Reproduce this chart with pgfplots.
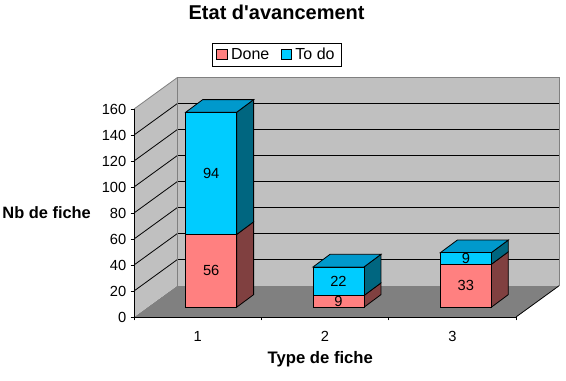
\documentclass[border=0pt]{standalone}
\usepackage{fontspec}
\setmainfont{Liberation Sans}
\usepackage{pgfplots}
\pgfplotsset{compat=1.18}
\usepackage{pgfplotstable}

\definecolor{done}{HTML}{FF8080}
\definecolor{doneside}{HTML}{804040}
\definecolor{todo}{HTML}{00CCFF}
\definecolor{todoside}{HTML}{006680}
\definecolor{todotop}{HTML}{0099CC}
\definecolor{wallc}{HTML}{C0C0C0}
\definecolor{floorc}{HTML}{808080}

\pgfplotstableread{
cat done todo
1   56   94
2   9    22
3   33   9
}\datatable

\pgfplotsset{
  frame3d/.style={
    scale only axis, width=286.5pt, height=156pt,
    xmin=0.5, xmax=3.5, ymin=0, ymax=160,
    clip=false, anchor=south west,
  },
  sqlegend/.style={/pgfplots/legend image code/.code={%
    \draw[fill=#1,draw=black,line width=0.6pt] (0pt,-3.9pt) rectangle (8.2pt,3.9pt);}},
  face/.style={fill=#1, draw=black, line width=0.6pt, mark=none, forget plot},
}

\begin{document}
\begin{tikzpicture}
\useasboundingbox (0,0) rectangle (424.5pt,285pt);
% ---------- main axis: walls, 3D faces, axes, texts
\begin{axis}[
  frame3d, at={(100.5pt,47.25pt)},
  axis on top,
  axis x line*=bottom, axis y line*=left,
  axis line style={black, line width=0.6pt},
  ytick={0,20,...,160},
  xtick={0.5,1.5,2.5,3.5}, xticklabels={},
  extra x ticks={1,2,3}, extra x tick labels={1,2,3},
  extra x tick style={major tick length=0pt},
  tick align=outside,
  major tick length=2.6pt,
  tick style={black, line width=0.6pt},
  ticklabel style={font=\fontsize{11}{13}\selectfont},
  yticklabel style={xshift=0.3pt},
  xticklabel style={anchor=base, yshift=-18.5pt},
  /pgf/number format/assume math mode=true,
  xlabel={Type de fiche},
  xlabel style={at={(axis description cs:0.4877,-0.2212)}, anchor=base,
    font=\fontsize{12.5}{14}\selectfont\bfseries},
  ylabel={Nb de fiche},
  ylabel style={at={(axis description cs:-0.2286,0.4745)}, anchor=base, rotate=-90,
    font=\fontsize{12.3}{14}\selectfont\bfseries},
  legend columns=2,
  legend style={at={(axis description cs:0.3743,1.2619)}, anchor=center,
    draw=black, line width=0.6pt, font=\fontsize{12}{14}\selectfont,
    inner xsep=3pt, inner ysep=2.6pt,
    nodes={inner xsep=2.4pt, inner ysep=1pt},
    /tikz/every even column/.append style={column sep=6pt}},
]
% floor and walls
\fill[floorc] (axis cs:0.5,0) -- (axis cs:3.5,0) -- (axis cs:3.8377,24) -- (axis cs:0.8377,24) -- cycle;
\fill[wallc] (axis cs:0.5,0) -- (axis cs:0.8377,24) -- (axis cs:0.8377,184) -- (axis cs:0.5,160) -- cycle;
\fill[wallc] (axis cs:0.8377,24) rectangle (axis cs:3.8377,184);
\pgfplotsinvokeforeach{20,40,...,140}{
  \draw[black, line width=0.6pt] (axis cs:0.8377,{24+#1}) -- (axis cs:3.8377,{24+#1});
  \draw[black, line width=0.6pt] (axis cs:0.5,#1) -- (axis cs:0.8377,{24+#1});
}
\draw[floorc, line width=0.6pt] (axis cs:0.8377,24) -- (axis cs:0.8377,184) -- (axis cs:3.8377,184) -- (axis cs:3.8377,24);
\draw[floorc, line width=0.6pt] (axis cs:0.5,160) -- (axis cs:0.8377,184);
\draw[black, line width=0.6pt] (axis cs:3.5,0) -- (axis cs:3.8377,24);
% 3D side and top faces of the bars
\addplot[face=doneside] coordinates {(1.306,7.5) (1.4395,17.2) (1.4395,73.2) (1.306,63.5)} -- cycle;
\addplot[face=todoside] coordinates {(1.306,63.5) (1.4395,73.2) (1.4395,167.2) (1.306,157.5)} -- cycle;
\addplot[face=todotop] coordinates {(0.906,157.5) (1.306,157.5) (1.4395,167.2) (1.0395,167.2)} -- cycle;
\addplot[face=doneside] coordinates {(2.306,7.5) (2.4395,17.2) (2.4395,26.2) (2.306,16.5)} -- cycle;
\addplot[face=todoside] coordinates {(2.306,16.5) (2.4395,26.2) (2.4395,48.2) (2.306,38.5)} -- cycle;
\addplot[face=todotop] coordinates {(1.906,38.5) (2.306,38.5) (2.4395,48.2) (2.0395,48.2)} -- cycle;
\addplot[face=doneside] coordinates {(3.306,7.5) (3.4395,17.2) (3.4395,50.2) (3.306,40.5)} -- cycle;
\addplot[face=todoside] coordinates {(3.306,40.5) (3.4395,50.2) (3.4395,59.2) (3.306,49.5)} -- cycle;
\addplot[face=todotop] coordinates {(2.906,49.5) (3.306,49.5) (3.4395,59.2) (3.0395,59.2)} -- cycle;
% legend
\addlegendimage{sqlegend=done}
\addlegendentry{Done}
\addlegendimage{sqlegend=todo}
\addlegendentry{To do}
% title
\node[anchor=base, font=\fontsize{15}{17}\selectfont\bfseries]
  at (axis description cs:0.3733,1.431) {Etat d\textquotesingle avancement};
\end{axis}
% ---------- front faces of the stacked bars
\begin{axis}[
  frame3d, at={(110.62pt,54.56pt)}, hide axis,
  ybar stacked, bar width=0.4,
]
\addplot[fill=done, draw=black, line width=0.6pt] table[x=cat, y=done] {\datatable};
\addplot[fill=todo, draw=black, line width=0.6pt] table[x=cat, y=todo] {\datatable};
\end{axis}
% ---------- value labels
\begin{axis}[
  frame3d, at={(110.62pt,54.56pt)}, hide axis,
]
\addplot[draw=none, mark=none, nodes near coords, point meta=explicit symbolic,
  nodes near coords style={anchor=center, font=\fontsize{11}{13}\selectfont}]
  coordinates {(1,28)[56] (1,103)[94] (2,4.5)[9] (2,20)[22] (3,16.5)[33] (3,37.5)[9]};
\end{axis}
\end{tikzpicture}
\end{document}
